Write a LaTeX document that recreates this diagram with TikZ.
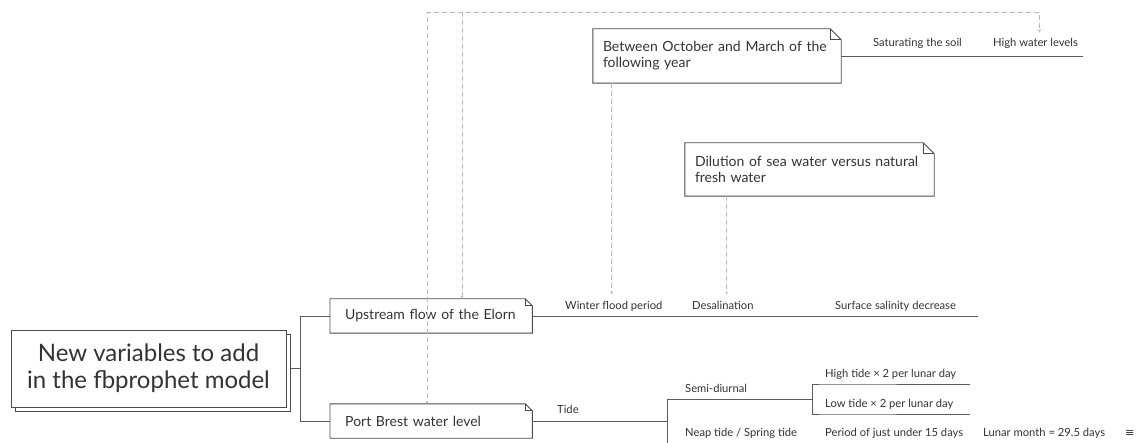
\documentclass[tikz,border=0pt]{standalone}
\usepackage{fontspec}
\setmainfont{Lato}
\newfontfamily\symfont{DejaVu Sans}
\usepackage{xcolor}
\usetikzlibrary{arrows.meta,shadows}

\definecolor{boxgray}{HTML}{4A4A4A}
\definecolor{linegray}{HTML}{5C5C5C}
\definecolor{relgray}{HTML}{B8B8B8}
\definecolor{txtgray}{HTML}{333333}

\tikzset{
    rootbox/.style={draw=boxgray, fill=white, line width=0.9pt, text=txtgray,
        minimum width=275pt, minimum height=77pt, align=center,
        font=\fontsize{24}{27}\selectfont,
        copy shadow={shadow xshift=4.5pt, shadow yshift=-4.5pt, draw=boxgray, fill=white}},
    topicbox/.style={anchor=west, minimum width=202pt, minimum height=34pt,
        text width=172pt, inner xsep=15pt, align=left, text=txtgray,
        font=\fontsize{14}{16}\selectfont},
    notebox/.style={minimum height=54pt, inner xsep=10pt, align=left, text=txtgray,
        font=\fontsize{14}{16}\selectfont},
    lbl/.style={anchor=base west, inner xsep=0pt, inner ysep=6pt, text=txtgray,
        font=\fontsize{11.2}{12}\selectfont},
    boxline/.style={draw=boxgray, line width=0.9pt},
    branch/.style={draw=linegray, line width=0.9pt},
    reltip/.tip={Stealth[length=3pt,width=2.5pt]},
    rel/.style={draw=relgray, line width=0.8pt, dash pattern=on 5pt off 3pt, -reltip}
}

% folded corner outline round a node
\newcommand{\foldbox}[2]{%
    \draw[boxline] (#1.south west) -- (#1.north west) -- ([xshift=-#2]#1.north east)
        -- ([yshift=-#2]#1.north east) -- (#1.south east) -- cycle;
    \draw[boxline] ([xshift=-#2]#1.north east) |- ([yshift=-#2]#1.north east);
}

\begin{document}
\begin{tikzpicture}[x=1pt,y=-1pt]
    \useasboundingbox[fill=white] (0,0) rectangle (1137,443);

    % Central topic
    \node[rootbox] (root) at (148.5,368.5) {New variables to add\\in the fbprophet model};

    % Main topics
    \node[topicbox] (upstream) at (330,316) {Upstream flow of the Elorn};
    \node[topicbox] (port) at (330,421) {Port Brest water level};
    \foldbox{upstream}{7pt}
    \foldbox{port}{7pt}

    % Root to main topics
    \coordinate (fork) at (300,368.5);
    \draw[branch] ([xshift=4.5pt]root.east) -- (fork);
    \draw[branch] (fork) |- (upstream.west);
    \draw[branch] (fork) |- (port.west);

    % Notes
    \node[notebox, text width=228pt] (octnote) at (717,56)
        {Between October and March of the\\following year};
    \node[notebox, text width=229pt, minimum height=53pt] (dilution) at (809.5,169.5)
        {Dilution of sea water versus natural\\fresh water};
    \foldbox{octnote}{11pt}
    \foldbox{dilution}{11pt}

    % Upstream branch
    \node[lbl] (winter) at (565,309) {Winter flood period};
    \node[lbl] (desal) at (692,309) {Desalination};
    \node[lbl] (surface) at (835,309) {Surface salinity decrease};
    \coordinate (upend) at (978,316);
    \draw[branch] (upstream.east) -- (upend);

    % Winter period branch
    \node[lbl] (soil) at (873,47) {Saturating the soil};
    \node[lbl] (high) at (993,47) {High water levels};
    \coordinate (octend) at (1083,56);
    \draw[branch] (octnote.east) -- (octend);

    % Port branch
    \node[lbl] (tide) at (557,413) {Tide};
    \node[lbl] (semi) at (685,392) {Semi-diurnal};
    \node[lbl] (hightide) at (825,377) {High tide × 2 per lunar day};
    \node[lbl] (lowtide) at (825,407) {Low tide × 2 per lunar day};
    \node[lbl] (neap) at (685,436) {Neap tide / Spring tide};
    \node[lbl] (period) at (825,436) {Period of just under 15 days};
    \node[lbl] (lunar) at (983,436) {Lunar month = 29.5 days};
    \node[lbl] (icon) at (1125,436) {\symfont ≡};

    \coordinate (tidefork) at (667,421);
    \coordinate (tidebot) at (667,443);
    \coordinate (semifork) at (812,399);
    \coordinate (highend) at (970,384);
    \coordinate (lowend) at (970,414);
    \draw[branch] (port.east) -- (tidefork);
    \draw[branch] (tidebot) |- (semifork);
    \draw[branch] (semifork) |- (hightide.south west |- highend) -- (highend);
    \draw[branch] (semifork) |- (lowtide.south west |- lowend) -- (lowend);

    % Relationships
    \draw[rel] ([xshift=19pt]octnote.south west) -- ([xshift=19pt]octnote.south west |- winter.north);
    \draw[rel] ([xshift=42pt]dilution.south west) -- ([xshift=42pt]dilution.south west |- desal.north);
    \draw[rel, reltip-reltip] ([xshift=132pt]upstream.north west) -- ++(0,-286) -| ([xshift=4pt]high.north);
    \draw[rel, reltip-reltip, dash phase=4pt] ([xshift=97pt]port.north west) -- ++(0,-391) -| ([xshift=4pt]high.north);
\end{tikzpicture}
\end{document}
